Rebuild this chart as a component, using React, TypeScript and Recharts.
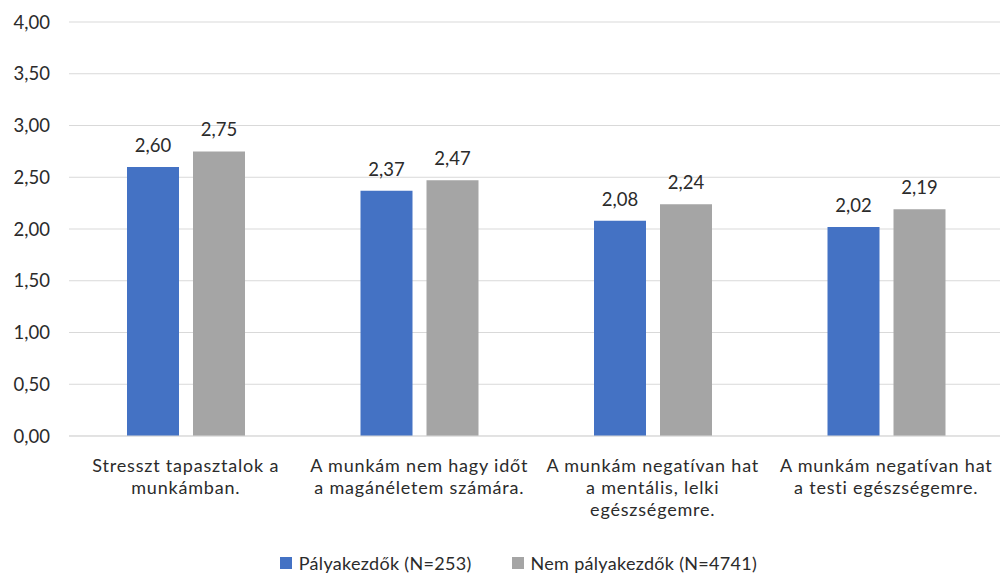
import { BarChart, Bar, XAxis, YAxis, CartesianGrid, Legend, LabelList } from 'recharts';

const categories = [
  'Stresszt tapasztalok a\nmunkámban.',
  'A munkám nem hagy időt\na magánéletem számára.',
  'A munkám negatívan hat\na mentális, lelki\negészségemre.',
  'A munkám negatívan hat\na testi egészségemre.',
];
const palyakezdok = [2.6, 2.37, 2.08, 2.02];
const nemPalyakezdok = [2.75, 2.47, 2.24, 2.19];
const yTicks = [0, 0.5, 1, 1.5, 2, 2.5, 3, 3.5, 4];

const seriesNames = ['Pályakezdők (N=253)', 'Nem pályakezdők (N=4741)'];
const colors = ['#4472C4', '#A5A5A5'];

const data = categories.map((name, i) => ({
  name,
  a: palyakezdok[i],
  b: nemPalyakezdok[i],
}));

const FONT = 'Lato, "Noto Sans", sans-serif';
const TEXT = '#2b2b2b';
const fmt = (v: number) => v.toFixed(2).replace('.', ',');

function CategoryTick(props: any) {
  const { x, y, payload } = props;
  const lines = String(payload.value).split('\n');
  return (
    <g>
      {lines.map((line, i) => (
        <text
          key={i}
          x={x}
          y={y + 29 + i * 22}
          dominantBaseline="central"
          textAnchor="middle"
          fill={TEXT}
          fontSize={18}
          letterSpacing={0.8}
          fontFamily={FONT}
        >
          {line}
        </text>
      ))}
    </g>
  );
}

function LegendContent() {
  return (
    <div
      style={{
        display: 'flex',
        justifyContent: 'center',
        gap: 40,
        fontFamily: FONT,
        fontSize: 18,
        letterSpacing: 0.3,
        color: TEXT,
        paddingLeft: 34,
        paddingTop: 8,
      }}
    >
      {seriesNames.map((s, i) => (
        <div key={s} style={{ display: 'flex', alignItems: 'center' }}>
          <span style={{ width: 12, height: 12, background: colors[i], marginRight: 7, display: 'inline-block' }} />
          <span>{s}</span>
        </div>
      ))}
    </div>
  );
}

export default function App() {
  return (
    <div style={{ position: 'absolute', left: 0, top: 0, width: 1000, height: 574, overflow: 'hidden', background: '#fff' }}>
      <BarChart
        width={1004}
        height={574}
        data={data}
        margin={{ top: 22, right: 1, bottom: 0, left: 0 }}
        barSize={52}
        barGap={14}
      >
        <CartesianGrid vertical={false} stroke="#d9d9d9" />
        <XAxis
          dataKey="name"
          axisLine={{ stroke: '#d9d9d9' }}
          tickLine={false}
          tickSize={0}
          tickMargin={0}
          height={108}
          interval={0}
          tick={<CategoryTick />}
        />
        <YAxis
          domain={[0, 4]}
          ticks={yTicks}
          width={69}
          axisLine={false}
          tickLine={false}
          tickSize={0}
          tickMargin={19}
          tickFormatter={fmt}
          tick={{ fill: TEXT, fontSize: 18.5, fontFamily: FONT }}
        />
        <Legend verticalAlign="bottom" height={30} content={<LegendContent />} />
        <Bar dataKey="a" name={seriesNames[0]} fill={colors[0]} isAnimationActive={false}>
          <LabelList dataKey="a" position="top" offset={15} formatter={(v: any) => fmt(Number(v))} fill={TEXT} fontSize={18.5} fontFamily={FONT} />
        </Bar>
        <Bar dataKey="b" name={seriesNames[1]} fill={colors[1]} isAnimationActive={false}>
          <LabelList dataKey="b" position="top" offset={15} formatter={(v: any) => fmt(Number(v))} fill={TEXT} fontSize={18.5} fontFamily={FONT} />
        </Bar>
      </BarChart>
    </div>
  );
}
